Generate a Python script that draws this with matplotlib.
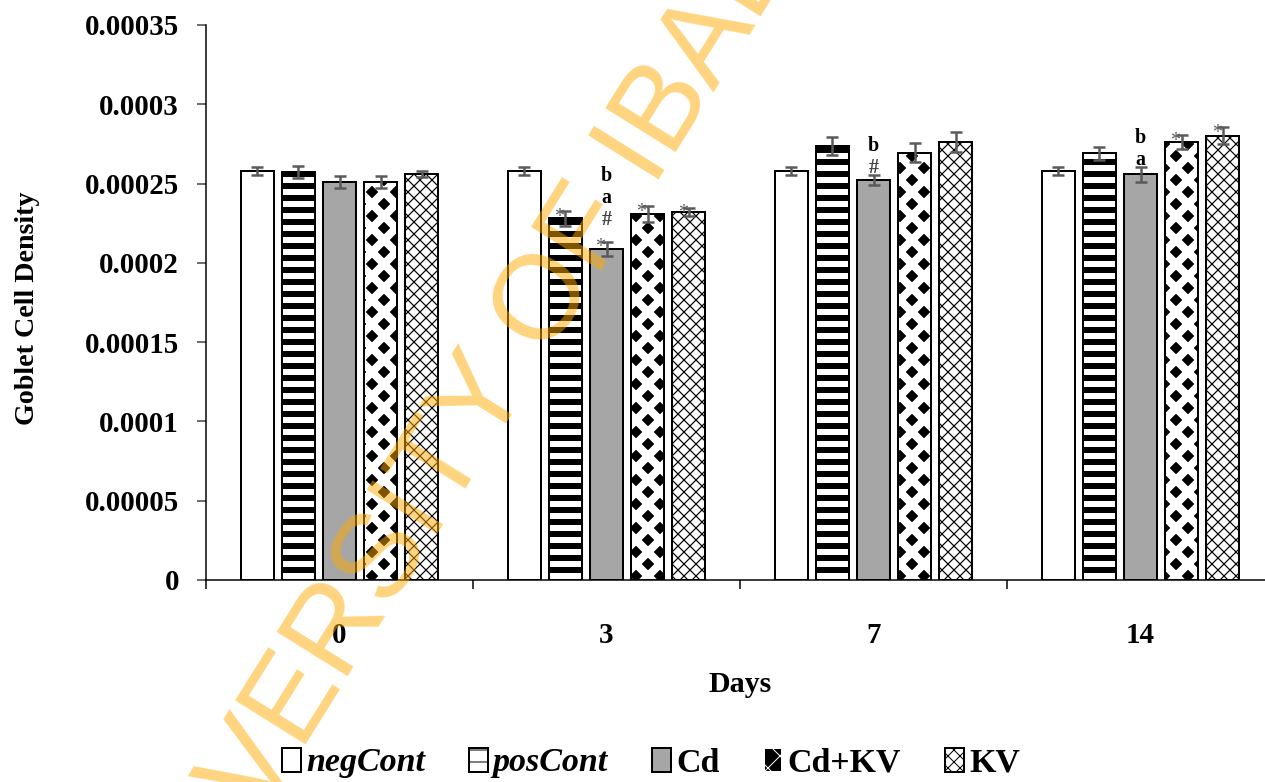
"""Goblet cell density by day and treatment group (grouped bar chart)."""
import matplotlib
matplotlib.use("Agg")
import matplotlib.pyplot as plt
import numpy as np

plt.rcParams.update({"font.family": "Liberation Serif", "font.weight": "bold",
                     "axes.spines.top": False, "axes.spines.right": False})

days = ["0", "3", "7", "14"]
groups = ["negCont", "posCont", "Cd", "Cd+KV", "KV"]

# mean goblet cell density per group, one value per day
neg_cont = [0.000258, 0.000258, 0.000258, 0.000258]
pos_cont = [0.000257, 0.000228, 0.0002737, 0.000269]
cd = [0.000251, 0.0002087, 0.0002523, 0.0002558]
cd_kv = [0.000251, 0.0002306, 0.0002695, 0.000276]
kv = [0.000256, 0.0002323, 0.0002762, 0.0002802]

# standard errors
neg_err = [0.0000025, 0.0000025, 0.0000025, 0.0000025]
pos_err = [0.0000038, 0.0000047, 0.0000055, 0.000004]
cd_err = [0.0000035, 0.0000045, 0.0000034, 0.0000045]
cd_kv_err = [0.000004, 0.000005, 0.0000058, 0.0000044]
kv_err = [0.000002, 0.0000025, 0.0000066, 0.0000054]

# significance marks per (day index, group index)
marks = {(1, 1): "*", (1, 2): "*#ab", (1, 3): "*", (1, 4): "*",
         (2, 2): "#b", (3, 2): "ab", (3, 3): "*", (3, 4): "*"}

yticks = [0, 0.00005, 0.0001, 0.00015, 0.0002, 0.00025, 0.0003, 0.00035]
ytick_labels = ["0", "0.00005", "0.0001", "0.00015", "0.0002", "0.00025",
                "0.0003", "0.00035"]

W, H, DPI = 1265, 782, 72
fig = plt.figure(figsize=(W / DPI, H / DPI), dpi=DPI)
ax = fig.add_axes([206 / W, (H - 580) / H, (1274 - 206) / W, 555 / H])

means = [neg_cont, pos_cont, cd, cd_kv, kv]
errs = [neg_err, pos_err, cd_err, cd_kv_err, kv_err]
step, width = 0.1536, 0.124
centers = np.arange(len(days)) + 0.5
err_kw = dict(ecolor="#5a5a5a", elinewidth=2.5, capsize=6, capthick=2.5)

styles = [
    dict(color="white", edgecolor="black", hatch=None, hlw=1),
    dict(color="white", edgecolor="black", hatch="-", hlw=6),
    dict(color="#a6a6a6", edgecolor="black", hatch=None, hlw=1),
    dict(color="black", edgecolor="white", hatch="x", hlw=8),
    dict(color="white", edgecolor="black", hatch="xx", hlw=1.2),
]

handles = []
for k, (m, e, st) in enumerate(zip(means, errs, styles)):
    x = centers + (k - 2) * step
    with plt.rc_context({"hatch.linewidth": st["hlw"]}):
        bars = ax.bar(x, m, width, color=st["color"], edgecolor=st["edgecolor"],
                      hatch=st["hatch"], linewidth=2, zorder=2)
        for b in bars:
            if hasattr(b, "set_hatch_linewidth"):
                b.set_hatch_linewidth(st["hlw"])
    # black outline on top (needed where hatch colour is white)
    ax.bar(x, m, width, fill=False, edgecolor="black", linewidth=2, zorder=3)
    ax.errorbar(x, m, yerr=e, fmt="none", zorder=4, **err_kw)
    handles.append(bars[0])

for (d, g), txt in marks.items():
    x = centers[d] + (g - 2) * step
    top = means[g][d] + errs[g][d]
    off = 0 if txt[0] == "*" else 7
    for i, ch in enumerate(txt):
        if ch == "*":
            ax.annotate("*", (x, top), xytext=(-6, -6 + off + i * 22),
                        textcoords="offset points", ha="center", va="center",
                        fontsize=20, fontweight="normal", color="#5a5a5a", zorder=5)
        else:
            ax.annotate(ch, (x, top), xytext=(0, off + i * 22),
                        textcoords="offset points", ha="center", va="center",
                        fontsize=20, color="#404040" if ch == "#" else "black",
                        zorder=5)

ax.set_ylim(0, 0.00035)
ax.set_xlim(0, 4)
ax.set_yticks(yticks)
ax.set_yticklabels(ytick_labels, fontsize=29)
ax.tick_params(axis="y", length=9, width=1.5, color="#404040", pad=18)
ax.set_xticks(range(5))
ax.set_xticklabels([])
ax.tick_params(axis="x", which="major", length=9, width=1.5, direction="out")
ax.set_xticks(centers, minor=True)
ax.set_xticklabels(days, minor=True, fontsize=29)
ax.tick_params(axis="x", which="minor", length=0, pad=42)
ax.spines["left"].set_linewidth(1.5)
ax.spines["bottom"].set_linewidth(1.5)

fig.text(28 / W, 1 - 308 / H, "Goblet Cell Density", rotation=90, ha="center",
         va="center", fontsize=28)
fig.text(740 / W, 1 - 685 / H, "Days", ha="center", va="center", fontsize=30)

leg = fig.legend(handles, groups, ncol=5,
                 loc="center", bbox_to_anchor=(651 / W, 1 - 763 / H), frameon=False,
                 handlelength=0.55, handleheight=0.7, handletextpad=0.15,
                 columnspacing=1.3, prop={"size": 34, "weight": "bold"})
for t in leg.get_texts()[:2]:
    t.set_style("italic")

# library watermark
fig.text(520 / W, 1 - 402 / H, "UNIVERSITY OF IBADAN", rotation=58,
         rotation_mode="anchor", ha="center", va="baseline", fontsize=120,
         family="Liberation Sans", fontweight="normal", color="#ffaa00",
         alpha=0.5, zorder=10)

fig.savefig("out.png", dpi=DPI)
